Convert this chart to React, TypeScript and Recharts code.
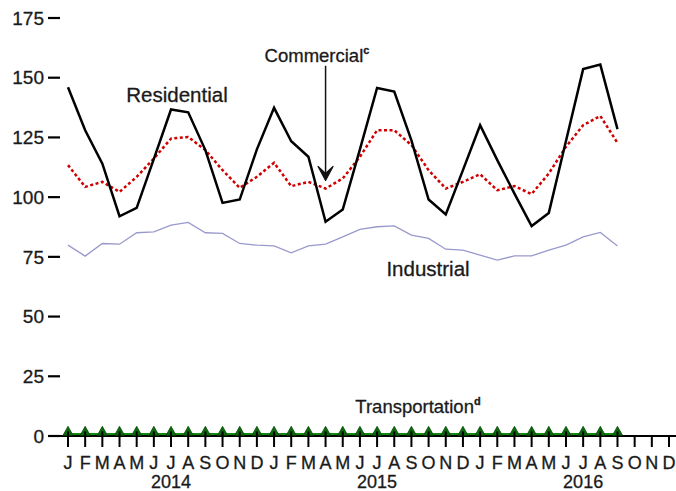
import { LineChart, Line, XAxis, YAxis, ReferenceLine } from 'recharts'

const monthLetters = ['J', 'F', 'M', 'A', 'M', 'J', 'J', 'A', 'S', 'O', 'N', 'D']
const years = ['2014', '2015', '2016']
const yTicks = [0, 25, 50, 75, 100, 125, 150, 175]

// Jan 2014 .. Sep 2016
const residential = [146, 128, 114, 92, 95.5, 116, 136.7, 135.5, 119.7, 97.6, 99, 120, 137.4, 123.4, 116.9, 89.7, 94.8, 120, 145.7, 144.2, 123.8, 99, 92.8, 111.3, 130.1, 115.5, 101.5, 87.9, 93.4, 123.5, 153.6, 155.5, 128.5]
const commercial = [113.4, 104.3, 106.4, 102.2, 108.5, 116.2, 124.5, 125.2, 119.7, 111.3, 103.9, 108.5, 114.4, 104.6, 106.4, 103.6, 107.8, 116.9, 128, 128, 121.8, 111.3, 103.6, 106.4, 109.6, 102.9, 104.6, 101.3, 109.9, 121.1, 130.1, 134, 122.7]
const industrial = [79.9, 75.3, 80.6, 80.3, 85.1, 85.5, 88.3, 89.4, 85.1, 84.8, 80.6, 79.9, 79.6, 76.7, 79.6, 80.3, 83.4, 86.5, 87.6, 88, 84.1, 82.7, 78.2, 77.8, 75.7, 73.6, 75.4, 75.4, 77.8, 79.9, 83.4, 85.2, 79.5]
const transportation = [0.7, 0.7, 0.7, 0.7, 0.7, 0.7, 0.7, 0.7, 0.7, 0.7, 0.7, 0.7, 0.7, 0.7, 0.7, 0.7, 0.7, 0.7, 0.7, 0.7, 0.7, 0.7, 0.7, 0.7, 0.7, 0.7, 0.7, 0.7, 0.7, 0.7, 0.7, 0.7, 0.7]

const data: any[] = []
years.forEach((yr, yi) => {
  monthLetters.forEach((m, mi) => {
    const i = yi * 12 + mi
    data.push({
      key: `${mi + 1}/${yr}`,
      letter: m,
      year: mi === 6 ? yr : '',
      residential: residential[i] ?? null,
      commercial: commercial[i] ?? null,
      industrial: industrial[i] ?? null,
      transportation: transportation[i] ?? null,
    })
  })
})

const font = 'Liberation Sans, Arial, sans-serif'
const ink = '#1a1a1a'

function MonthTick(props: any) {
  const { x, y, index } = props
  const d = data[index]
  return (
    <g>
      <text x={x} y={y + 20} textAnchor="middle" fontSize={18} fontFamily={font} fill={ink} stroke={ink} strokeWidth={0.3}>
        {d.letter}
      </text>
      {d.year && (
        <text x={x} y={y + 39} textAnchor="middle" fontSize={18} fontFamily={font} fill={ink} stroke={ink} strokeWidth={0.3}>
          {d.year}
        </text>
      )}
    </g>
  )
}

function Triangle(props: any) {
  const { cx, cy, index } = props
  if (cy == null) return <g key={index} />
  return (
    <g key={index}>
      <path
        d={`M${cx - 5},${cy + 1} L${cx},${cy - 8} L${cx + 5},${cy + 1} Z`}
        fill="#0b6b0b"
        stroke="#064d06"
        strokeWidth={0.8}
      />
      <line x1={cx} y1={cy - 3} x2={cx} y2={cy + 2} stroke="#000" strokeWidth={2} />
    </g>
  )
}

function Arrow(props: any) {
  const { x1, y1, x2, y2 } = props
  return (
    <g>
      <line x1={x1} y1={y1} x2={x2} y2={y2 - 2} stroke="#111" strokeWidth={1.5} />
      <path
        d={`M${x2 - 7.5},${y2 - 14} L${x2},${y2} L${x2 + 7.5},${y2 - 14} L${x2},${y2 - 7} Z`}
        fill="#111"
        stroke="#111"
        strokeWidth={1.2}
        strokeLinejoin="round"
      />
    </g>
  )
}

export default function App() {
  return (
    <div style={{ position: 'absolute', left: 0, top: 0, width: 676, height: 491, background: '#fff' }}>
      <LineChart width={676} height={491} data={data} margin={{ top: 18, right: 0, bottom: 0, left: 0 }}>
        <XAxis
          dataKey="key"
          interval={0}
          padding={{ left: 8, right: 7 }}
          height={55}
          tickSize={11}
          axisLine={{ stroke: '#000', strokeWidth: 2 }}
          tickLine={{ stroke: '#000', strokeWidth: 2 }}
          tick={<MonthTick />}
        />
        <YAxis
          domain={[0, 175]}
          ticks={yTicks}
          width={60}
          axisLine={false}
          tickSize={12}
          tickMargin={4}
          tickLine={{ stroke: '#000', strokeWidth: 2.2 }}
          tick={{ fontSize: 19, fontFamily: font, fill: ink, stroke: ink, strokeWidth: 0.3 }}
        />
        <Line dataKey="industrial" stroke="#9999cc" strokeWidth={1.3} dot={false} isAnimationActive={false} />
        <Line dataKey="commercial" stroke="#d00000" strokeWidth={2.5} strokeDasharray="3 2.5" dot={false} isAnimationActive={false} />
        <Line dataKey="residential" stroke="#000" strokeWidth={2.5} dot={false} isAnimationActive={false} />
        <Line dataKey="transportation" stroke="#128a12" strokeWidth={2.5} dot={<Triangle />} isAnimationActive={false} />
        <ReferenceLine
          segment={[{ x: '4/2015', y: 155 }, { x: '4/2015', y: 107 }]}
          shape={<Arrow />}
        />
        <text x={177} y={102} textAnchor="middle" fontSize={20.5} fontFamily={font} fill={ink} stroke={ink} strokeWidth={0.3}>Residential</text>
        <text x={317} y={62} textAnchor="middle" fontSize={18.5} fontFamily={font} fill={ink} stroke={ink} strokeWidth={0.3}>
          Commercial<tspan fontSize={11} dy={-8} fontWeight="bold">c</tspan>
        </text>
        <text x={428} y={276} textAnchor="middle" fontSize={20.5} fontFamily={font} fill={ink} stroke={ink} strokeWidth={0.3}>Industrial</text>
        <text x={418} y={413} textAnchor="middle" fontSize={18.5} fontFamily={font} fill={ink} stroke={ink} strokeWidth={0.3}>
          Transportation<tspan fontSize={11} dy={-8} fontWeight="bold">d</tspan>
        </text>
      </LineChart>
    </div>
  )
}
